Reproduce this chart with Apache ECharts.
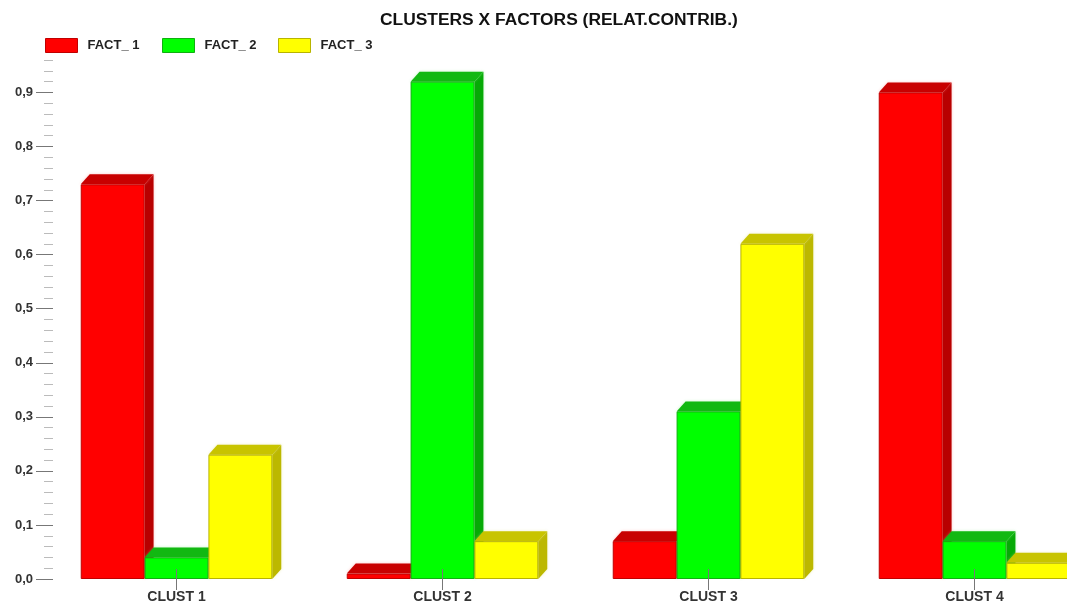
<!DOCTYPE html>
<html>
<head>
<meta charset="utf-8">
<script src="https://cdn.jsdelivr.net/npm/echarts@6/dist/echarts.min.js"></script>
<style>
html,body{margin:0;padding:0;background:#fff;}
#chart{width:1067px;height:602px;}
</style>
</head>
<body>
<div id="chart"></div>
<script>
const categories = ['CLUST 1', 'CLUST 2', 'CLUST 3', 'CLUST 4'];
const seriesNames = ['FACT_ 1', 'FACT_ 2', 'FACT_ 3'];
const fact1 = [0.73, 0.01, 0.07, 0.90];
const fact2 = [0.04, 0.92, 0.31, 0.07];
const fact3 = [0.23, 0.07, 0.62, 0.03];
const majorTicks = [0, 0.1, 0.2, 0.3, 0.4, 0.5, 0.6, 0.7, 0.8, 0.9];

const seriesValues = [fact1, fact2, fact3];
const frontColors = ['#ff0000', '#00ff00', '#ffff00'];
const topColors = ['#c80000', '#12b812', '#c8c400'];
const sideColors = ['#b80000', '#06aa06', '#bcb800'];
const borderColors = ['#c00000', '#10b010', '#b8b400'];
const glowColors = ['rgba(255,120,120,0.45)', 'rgba(120,230,120,0.45)', 'rgba(220,220,120,0.45)'];

const chart = echarts.init(document.getElementById('chart'));

const DX = 9, DY = 10;
function makeRender(k) {
  return function (params, api) {
    const ci = api.value(0);
    const v = api.value(1);
    const base = api.coord([ci, 0]);
    const top = api.coord([ci, v]);
    const band = api.size([1, 0])[0];
    const w = band * 0.24;
    const x0 = base[0] - 1.5 * w + k * w;
    const x1 = x0 + w;
    const y0 = base[1];
    const y1 = top[1];
    return {
      type: 'group',
      children: [
        { type: 'polygon', shape: { points: [[x1, y1], [x1 + DX, y1 - DY], [x1 + DX, y0 - DY], [x1, y0]] },
          style: { fill: sideColors[k], shadowBlur: 3, shadowColor: glowColors[k] } },
        { type: 'polygon', shape: { points: [[x0, y1], [x0 + DX, y1 - DY], [x1 + DX, y1 - DY], [x1, y1]] },
          style: { fill: topColors[k], shadowBlur: 3, shadowColor: glowColors[k] } },
        { type: 'rect', shape: { x: x0 + 0.5, y: y1 + 0.5, width: w - 1, height: Math.max(0, y0 - y1 - 1) },
          style: { fill: frontColors[k], stroke: borderColors[k], lineWidth: 1 } }
      ]
    };
  };
}

const legendLefts = [45, 162, 278];
const gridTop = 60, gridBottomY = 579, yMax = 0.96;
const unit = (gridBottomY - gridTop) / yMax;
const FONT = 'Liberation Sans, Arial, sans-serif';

const option = {
  backgroundColor: '#ffffff',
  animation: false,
  title: {
    text: 'CLUSTERS X FACTORS (RELAT.CONTRIB.)',
    left: 380, top: 12, padding: 0,
    textStyle: { fontFamily: FONT, fontSize: 17.4, fontWeight: 'bold', color: '#111' }
  },
  legend: seriesNames.map((n, i) => ({
    left: legendLefts[i], top: 38, padding: 0,
    itemWidth: 32, itemHeight: 14, icon: 'rect',
    selectedMode: false,
    data: [{ name: n, itemStyle: { borderColor: borderColors[i], borderWidth: 1 } }],
    textStyle: { fontFamily: FONT, fontSize: 13, fontWeight: 'bold', color: '#222', padding: [0, 0, 0, 5] }
  })),
  grid: [
    { left: 43.5, top: gridTop, width: 1064, height: gridBottomY - gridTop, outerBoundsMode: 'none', containLabel: false },
    { left: 43.5, top: gridBottomY - 0.9 * unit, width: 1064, height: 0.9 * unit, outerBoundsMode: 'none', containLabel: false }
  ],
  xAxis: [
    { type: 'category', gridIndex: 0, data: categories, z: 10, offset: -10,
      axisLine: { show: false },
      axisTick: { show: true, alignWithLabel: true, length: 21, lineStyle: { color: '#777' } },
      axisLabel: { margin: 21, fontFamily: FONT, fontSize: 14, fontWeight: 'bold', color: '#333' },
      splitLine: { show: false } },
    { type: 'category', gridIndex: 1, data: categories, show: false }
  ],
  yAxis: [
    { type: 'value', gridIndex: 0, min: 0, max: yMax, interval: 0.02, offset: -9.5,
      axisLine: { show: false },
      axisTick: { show: true, length: 9, lineStyle: { color: '#bbb' } },
      axisLabel: { show: false }, splitLine: { show: false } },
    { type: 'value', gridIndex: 1, min: 0, max: 0.9, interval: 0.1, offset: -9.5,
      axisLine: { show: false },
      axisTick: { show: true, length: 17, lineStyle: { color: '#777' } },
      axisLabel: { margin: 20, fontFamily: FONT, fontSize: 13, fontWeight: 'bold', color: '#333',
        formatter: function (v) {
          const m = majorTicks.find(t => Math.abs(t - v) < 1e-6);
          return m === undefined ? '' : m.toFixed(1).replace('.', ',');
        } },
      splitLine: { show: false } }
  ],
  series: seriesNames.map((n, k) => ({
    name: n,
    type: 'custom',
    xAxisIndex: 0, yAxisIndex: 0,
    clip: false,
    itemStyle: { color: frontColors[k] },
    encode: { x: 0, y: 1 },
    renderItem: makeRender(k),
    data: seriesValues[k].map((v, i) => [i, v])
  }))
};
chart.setOption(option);
</script>
</body>
</html>
